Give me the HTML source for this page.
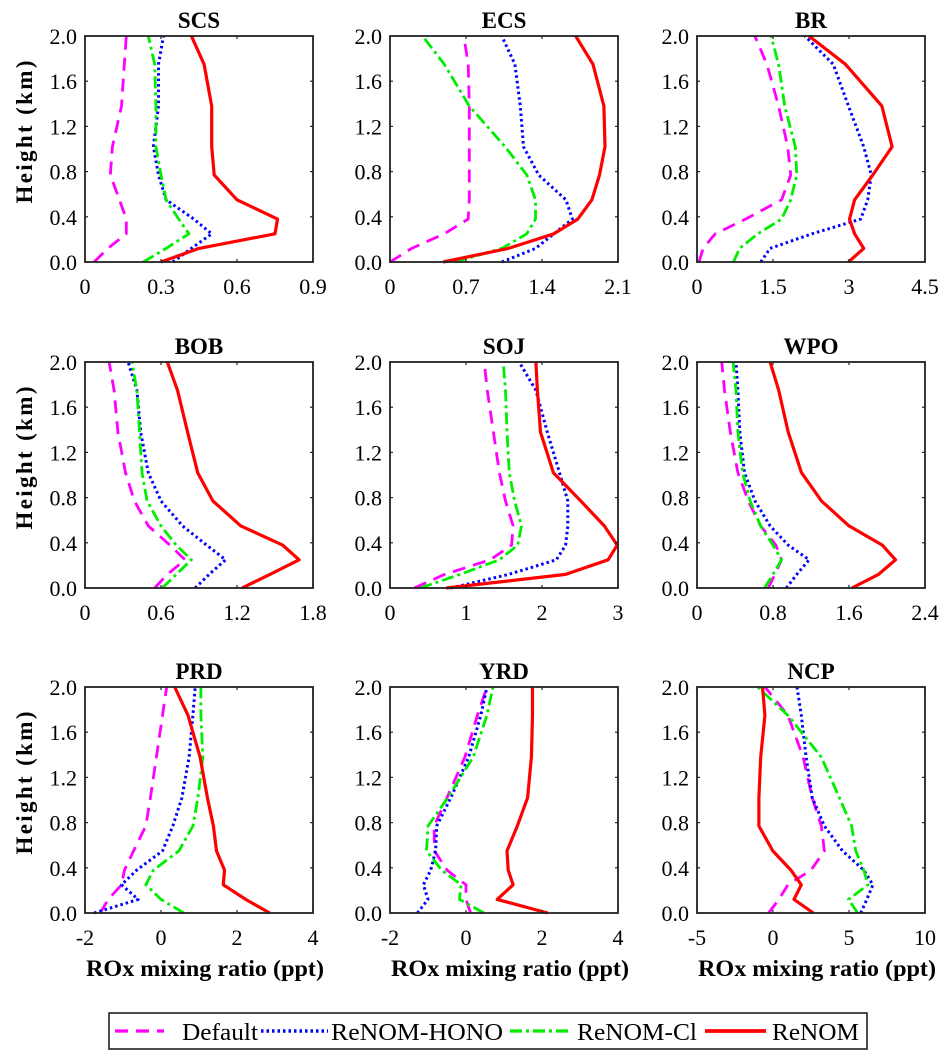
<!DOCTYPE html>
<html><head><meta charset="utf-8"><style>
html,body{margin:0;padding:0;background:#fff;}
svg{display:block;font-family:"Liberation Serif",serif;}
</style></head><body>
<svg id="chart" width="947" height="1064" xmlns="http://www.w3.org/2000/svg"></svg>
<script>
const heights=[0,0.12,0.25,0.38,0.55,0.77,1.02,1.38,1.75,2.0];
const panelNames=["SCS","ECS","BR","BOB","SOJ","WPO","PRD","YRD","NCP"];
const xTicks=[[0,0.3,0.6,0.9],[0,0.7,1.4,2.1],[0,1.5,3,4.5],[0,0.6,1.2,1.8],[0,1,2,3],[0,0.8,1.6,2.4],[-2,0,2,4],[-2,0,2,4],[-5,0,5,10]];
const xTickLabels=[["0","0.3","0.6","0.9"],["0","0.7","1.4","2.1"],["0","1.5","3","4.5"],["0","0.6","1.2","1.8"],["0","1","2","3"],["0","0.8","1.6","2.4"],["-2","0","2","4"],["-2","0","2","4"],["-5","0","5","10"]];
const yTicks=[0,0.4,0.8,1.2,1.6,2.0];
const yTickLabels=["0.0","0.4","0.8","1.2","1.6","2.0"];
const seriesNames=["Default","ReNOM-HONO","ReNOM-Cl","ReNOM"];
const defaultVals=[
[0.036,0.09,0.163,0.163,0.136,0.10,0.108,0.144,0.155,0.163],
[0.0,0.2,0.5,0.72,0.73,0.73,0.73,0.73,0.72,0.68],
[0.04,0.12,0.36,0.96,1.67,1.85,1.79,1.61,1.38,1.14],
[0.55,0.65,0.79,0.67,0.50,0.39,0.32,0.26,0.23,0.19],
[0.32,0.72,1.32,1.60,1.62,1.52,1.44,1.36,1.28,1.24],
[0.75,0.82,0.89,0.83,0.67,0.54,0.43,0.35,0.29,0.26],
[-1.6,-1.39,-1.04,-0.96,-0.72,-0.40,-0.28,-0.12,0.04,0.15],
[0.12,0.0,0.0,-0.5,-0.83,-0.84,-0.5,-0.03,0.3,0.55],
[-0.29,0.39,0.98,2.5,3.38,3.18,2.58,1.98,0.98,-0.53]];
const honoVals=[
[0.347,0.42,0.50,0.43,0.32,0.29,0.27,0.29,0.29,0.31],
[1.03,1.34,1.51,1.68,1.62,1.37,1.23,1.20,1.15,1.03],
[1.26,1.44,2.27,3.23,3.37,3.44,3.29,2.99,2.69,2.13],
[0.87,0.98,1.11,0.96,0.77,0.60,0.50,0.44,0.41,0.34],
[0.80,1.56,2.19,2.31,2.34,2.34,2.23,2.07,1.92,1.70],
[0.94,1.05,1.18,0.96,0.77,0.61,0.50,0.45,0.43,0.41],
[-1.76,-0.6,-1.04,-0.64,0.04,0.31,0.55,0.74,0.84,0.90],
[-1.28,-1.0,-1.12,-0.93,-0.80,-0.77,-0.40,0.07,0.39,0.55],
[5.77,6.17,6.57,5.97,4.57,3.38,2.58,2.18,1.86,1.58]];
const clVals=[
[0.23,0.32,0.41,0.37,0.32,0.30,0.28,0.28,0.275,0.25],
[0.6,1.03,1.26,1.34,1.34,1.26,1.06,0.73,0.50,0.30],
[0.72,0.84,1.2,1.67,1.85,1.97,1.94,1.73,1.61,1.46],
[0.61,0.72,0.84,0.72,0.60,0.49,0.45,0.43,0.41,0.37],
[0.40,0.92,1.44,1.68,1.73,1.64,1.57,1.54,1.52,1.49],
[0.71,0.80,0.89,0.80,0.67,0.56,0.48,0.43,0.41,0.38],
[0.6,0.0,-0.4,-0.2,0.47,0.84,0.97,1.1,1.05,1.05],
[0.47,-0.17,-0.13,-0.64,-1.04,-1.0,-0.48,0.19,0.55,0.71],
[5.57,4.97,6.25,5.97,5.45,5.17,4.37,3.18,0.98,-1.01]];
const renomVals=[
[0.30,0.45,0.75,0.76,0.60,0.51,0.50,0.50,0.47,0.42],
[0.49,1.09,1.51,1.73,1.86,1.93,1.98,1.97,1.87,1.71],
[2.99,3.29,3.11,3.01,3.11,3.47,3.85,3.65,2.93,2.21],
[1.24,1.46,1.69,1.56,1.23,1.01,0.89,0.81,0.73,0.65],
[0.74,2.31,2.87,2.99,2.82,2.51,2.15,1.98,1.94,1.92],
[1.63,1.91,2.09,1.95,1.60,1.31,1.10,0.96,0.86,0.77],
[2.86,2.23,1.64,1.67,1.46,1.38,1.22,1.03,0.71,0.36],
[2.15,0.82,1.24,1.11,1.08,1.35,1.62,1.72,1.75,1.75],
[2.66,1.38,1.86,1.18,-0.01,-0.93,-0.93,-0.81,-0.53,-0.69]];
const NS="http://www.w3.org/2000/svg";
const svg=document.getElementById("chart");
function mk(tag,attrs,parent){const e=document.createElementNS(NS,tag);for(const k in attrs)e.setAttribute(k,attrs[k]);(parent||svg).appendChild(e);return e;}
const lefts=[85,390,697],tops=[36,362,687],W=228,H=226;
const styles=[
{stroke:"#ff00ff",dash:"13,8",w:2.8},
{stroke:"#0000ff",dash:"2.5,3",w:3},
{stroke:"#00ee00",dash:"12,4,3,4",w:2.8},
{stroke:"#ff0000",dash:"",w:3.2}];
const allSeries=[defaultVals,honoVals,clVals,renomVals];
const seriesKeys=["default","renom-hono","renom-cl","renom"];
for(let p=0;p<9;p++){
  const col=p%3,row=Math.floor(p/3);
  const L=lefts[col],T=tops[row];
  const xmin=xTicks[p][0],xmax=xTicks[p][xTicks[p].length-1];
  const xs=v=>L+(v-xmin)/(xmax-xmin)*W;
  const ys=h=>T+H-(h/2)*H;
  const g=mk("g",{});
  
  
  const t=mk("text",{x:L+W/2,y:T-8,"text-anchor":"middle","font-size":"23","font-weight":"bold"},g);
  t.textContent=panelNames[p];
  
  
  for(let s=0;s<4;s++){
    const pts=heights.map((h,i)=>xs(allSeries[s][p][i]).toFixed(1)+","+ys(h).toFixed(1)).join(" ");
    const pl=mk("polyline",{points:pts,fill:"none",stroke:styles[s].stroke,"stroke-width":styles[s].w,"stroke-dasharray":styles[s].dash,"stroke-linejoin":"round"},g);
    
    
  }
  const box=mk("rect",{x:L,y:T,width:W,height:H,fill:"none",stroke:"#222","stroke-width":1.8},g);
  
  
  yTicks.forEach((v,i)=>{
    const y=ys(v);
    mk("line",{x1:L,x2:L+3,y1:y,y2:y,stroke:"#222","stroke-width":1.2},g);
    mk("line",{x1:L+W,x2:L+W-3,y1:y,y2:y,stroke:"#222","stroke-width":1.2},g);
    const tl=mk("text",{x:L-8,y:y+8,"text-anchor":"end","font-size":"22"},g);
    tl.textContent=yTickLabels[i];
    
    
  });
  xTicks[p].forEach((v,i)=>{
    const x=xs(v);
    mk("line",{x1:x,x2:x,y1:T+H,y2:T+H-3,stroke:"#222","stroke-width":1.2},g);
    mk("line",{x1:x,x2:x,y1:T,y2:T+3,stroke:"#222","stroke-width":1.2},g);
    const tl=mk("text",{x:x,y:T+H+32,"text-anchor":"middle","font-size":"22"},g);
    tl.textContent=xTickLabels[p][i];
    
    
  });
  if(col===0){
    const yl=mk("text",{x:0,y:0,"text-anchor":"middle","font-size":"23","font-weight":"bold",textLength:"143",lengthAdjust:"spacing",transform:`translate(32,${T+96}) rotate(-90)`},g);
    yl.textContent="Height (km)";
    
    
  }
  if(row===2){
    const xl=mk("text",{x:L+W/2+6,y:976,"text-anchor":"middle","font-size":"23","font-weight":"bold",textLength:"238",lengthAdjust:"spacingAndGlyphs"},g);
    xl.textContent="ROx mixing ratio (ppt)";
    
    
  }
}
const lg=mk("g",{});


const lb=mk("rect",{x:109,y:1013,width:758,height:36,fill:"#fff",stroke:"#222","stroke-width":1.6},lg);


const sx=[[115,164],[261,328],[510,571],[705,766]];
const tx=[[182,76],[331,172],[577,120],[772,87]];
for(let s=0;s<4;s++){
  const e=mk("g",{},lg);
  
  
  mk("line",{x1:sx[s][0],x2:sx[s][1],y1:1031,y2:1031,stroke:styles[s].stroke,"stroke-width":styles[s].w+0.5,"stroke-dasharray":styles[s].dash},e);
  const t=mk("text",{x:tx[s][0],y:1040,"font-size":"24",textLength:tx[s][1],lengthAdjust:"spacingAndGlyphs"},e);
  t.textContent=seriesNames[s];
}
</script>
</body></html>
